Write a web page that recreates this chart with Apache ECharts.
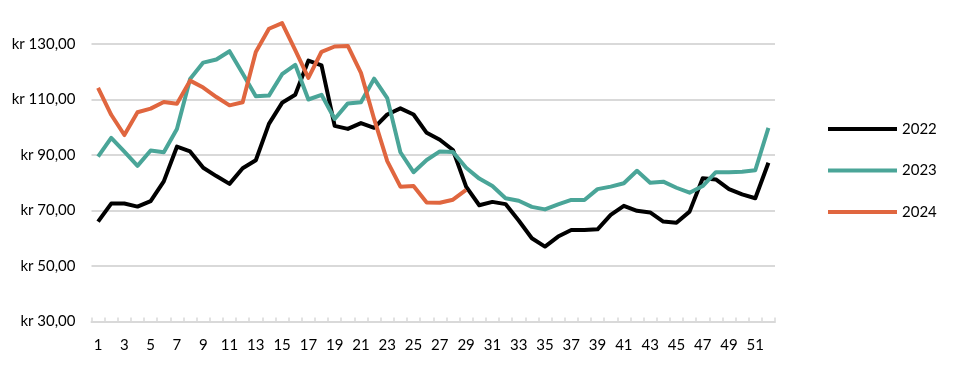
<!DOCTYPE html>
<html>
<head>
<meta charset="utf-8">
<script src="https://cdn.jsdelivr.net/npm/echarts@6/dist/echarts.min.js"></script>
<style>
html,body{margin:0;padding:0;background:#fff;}
#chart{width:960px;height:376px;}
</style>
</head>
<body>
<div id="chart"></div>
<script>
const weeks = Array.from({length: 52}, (_, i) => String(i + 1));

const s2022 = [66.0, 72.5, 72.5, 71.4, 73.4, 80.5, 93.0, 91.3, 85.4, 82.4, 79.6, 85.2, 88.1, 101.2, 108.8, 111.7, 124.0, 122.3, 100.5, 99.4, 101.5, 99.8, 104.6, 106.8, 104.6, 98.0, 95.5, 91.8, 78.6, 71.9, 73.1, 72.3, 66.4, 60.0, 57.0, 60.6, 63.0, 63.0, 63.2, 68.4, 71.7, 69.9, 69.3, 66.0, 65.6, 69.6, 81.6, 81.2, 77.7, 75.8, 74.4, 87.2];

const s2023 = [89.4, 96.2, 91.2, 86.1, 91.6, 91.0, 99.4, 117.4, 123.3, 124.4, 127.4, 119.4, 111.2, 111.4, 119.1, 122.5, 110.0, 111.7, 103.0, 108.6, 109.0, 117.5, 110.5, 91.0, 83.8, 88.2, 91.3, 91.1, 85.4, 81.5, 78.8, 74.4, 73.5, 71.3, 70.4, 72.2, 73.8, 73.8, 77.7, 78.6, 79.8, 84.3, 80.0, 80.4, 78.2, 76.4, 78.8, 83.8, 83.8, 84.0, 84.5, 99.8];

const s2024 = [114.2, 104.5, 97.2, 105.4, 106.7, 109.1, 108.5, 116.8, 114.3, 110.9, 107.9, 109.0, 127.1, 135.5, 137.5, 127.8, 117.8, 127.2, 129.1, 129.3, 119.6, 103.0, 87.8, 78.6, 78.8, 72.9, 72.8, 73.9, 77.4];

const yTicks = [30, 50, 70, 90, 110, 130];

const chart = echarts.init(document.getElementById('chart'));
const font = 'Lato, "Open Sans", sans-serif';
const mk = (name, data, color) => ({
  name, type: 'line', data, color,
  showSymbol: false, symbol: 'none',
  lineStyle: {width: 4, color, join: 'round'},
  emphasis: {disabled: true}
});
chart.setOption({
  animation: false,
  grid: {left: 91.5, right: 185, top: 16.25, bottom: 54.5, containLabel: false},
  xAxis: {
    type: 'category', data: weeks, boundaryGap: true,
    axisLine: {lineStyle: {color: '#d9d9d9', width: 2}},
    axisTick: {show: true, inside: true, length: 4, interval: 0, lineStyle: {color: '#d9d9d9', width: 1.5}},
    axisLabel: {interval: 1, color: '#000', fontFamily: font, fontSize: 15, margin: 16}
  },
  yAxis: {
    type: 'value', min: yTicks[0], max: 140, interval: 20,
    axisLine: {show: false}, axisTick: {show: false},
    splitLine: {show: true, showMaxLine: false, lineStyle: {color: '#d9d9d9', width: 2}},
    axisLabel: {
      showMaxLabel: false, color: '#000', fontFamily: font, fontSize: 15, margin: 16,
      formatter: v => yTicks.includes(v) ? 'kr ' + v.toFixed(2).replace('.', ',') : ''
    }
  },
  legend: {
    orient: 'vertical', left: 828, top: 120, padding: 0,
    icon: 'rect', itemWidth: 69, itemHeight: 4, itemGap: 23.5,
    textStyle: {color: '#000', fontFamily: font, fontSize: 15, lineHeight: 18},
    data: ['2022', '2023', '2024']
  },
  series: [
    mk('2022', s2022, '#000000'),
    mk('2023', s2023, '#4aa598'),
    mk('2024', s2024, '#e0663f')
  ]
});
</script>
</body>
</html>
